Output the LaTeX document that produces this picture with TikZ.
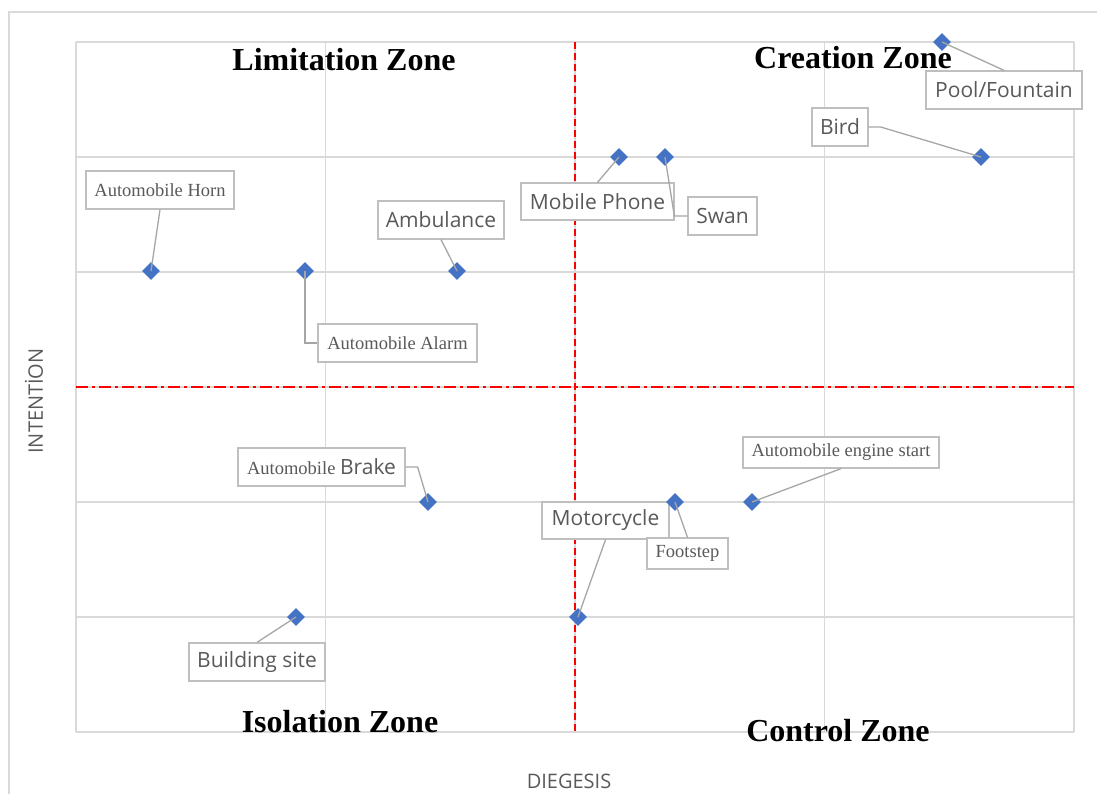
\documentclass[tikz,border=0pt]{standalone}
\usepackage{fontspec}
\setmainfont{Liberation Serif}
\newfontfamily\chartsans{Open Sans}
\usetikzlibrary{shapes.geometric}

\definecolor{gridgray}{HTML}{D9D9D9}
\definecolor{boxgray}{HTML}{BFBFBF}
\definecolor{leadgray}{HTML}{A6A6A6}
\definecolor{textgray}{HTML}{595959}
\definecolor{pointblue}{HTML}{4472C4}

\newcommand{\serifsmall}{\fontsize{18.5}{22}\selectfont}
\newcommand{\sanssmall}{\chartsans\fontsize{21}{25}\selectfont}

\begin{document}
\begin{tikzpicture}[x=1pt, y=-1pt,
	gridline/.style={draw=gridgray, line width=1.4pt},
	labelbox/.style={draw=boxgray, line width=1.3pt, fill=white, text=textgray, inner sep=0pt},
	point/.style={shape=diamond, fill=pointblue, inner sep=0pt, minimum size=18pt},
	leader/.style={draw=leadgray, line width=1.3pt},
	zone/.style={font=\fontsize{32}{38}\selectfont\bfseries, text=black, inner sep=0pt},
	axistitle/.style={font=\chartsans\fontsize{20}{24}\selectfont, text=textgray, inner sep=0pt}]
	\useasboundingbox (0,0) rectangle (1097,794);

	% chart frame and grid
	\draw[draw=gridgray, line width=1.3pt] (9,794) -- (9,12) -- (1097,12);
	\foreach \gx in {76,325.5,575,824.5,1074}
		\draw[gridline] (\gx,42) -- (\gx,732);
	\foreach \gy in {42,157,272,387,502,617,732}
		\draw[gridline] (76,\gy) -- (1074,\gy);

	% quadrant dividers
	\draw[red, line width=1.8pt, dash pattern=on 7pt off 4pt] (575,42) -- (575,732);
	\draw[red, line width=1.8pt, dash pattern=on 12pt off 4pt on 3pt off 4pt] (76,387) -- (1074,387);

	% zone titles
	\node[zone] (limitation) at (344,60)  {Limitation Zone};
	\node[zone] (creation)   at (853,58)  {Creation Zone};
	\node[zone] (isolation)  at (340,722) {Isolation Zone};
	\node[zone] (control)    at (838,731) {Control Zone};

	% axis titles
	\node[axistitle, rotate=90] (intention) at (34,401)  {INTENTİON};
	\node[axistitle]            (diegesis)  at (569,781) {DIEGESIS};

	% labels
	\node[labelbox, minimum width=148pt, minimum height=38pt] (horn)     at (160,190)     {\serifsmall Automobile Horn};
	\node[labelbox, minimum width=159pt, minimum height=38pt] (alarm)    at (397.5,343)   {\serifsmall Automobile Alarm};
	\node[labelbox, minimum width=126pt, minimum height=38pt] (amb)      at (441,220)     {\sanssmall Ambulance};
	\node[labelbox, minimum width=153pt, minimum height=37pt] (mobile)   at (597.5,201.5) {\sanssmall Mobile Phone};
	\node[labelbox, minimum width=69pt,  minimum height=38pt] (swan)     at (722.5,216)   {\sanssmall Swan};
	\node[labelbox, minimum width=56pt,  minimum height=38pt] (bird)     at (840,127)     {\sanssmall Bird};
	\node[labelbox, minimum width=156pt, minimum height=38pt] (pool)     at (1004,90)     {\sanssmall Pool/Fountain};
	\node[labelbox, minimum width=167pt, minimum height=38pt] (brake)    at (321.5,467)   {\serifsmall Automobile {\sanssmall Brake}};
	\node[labelbox, minimum width=127pt, minimum height=37pt] (moto)     at (605.5,520.5) {\sanssmall Motorcycle};
	\node[labelbox, minimum width=81pt,  minimum height=31pt] (footstep) at (687.5,553.5) {\serifsmall Footstep};
	\node[labelbox, minimum width=196pt, minimum height=31pt] (engine)   at (841,452.5)   {\serifsmall Automobile engine start};
	\node[labelbox, minimum width=136pt, minimum height=38pt] (building) at (257,662)     {\sanssmall Building site};

	% data points
	\node[point] (hornpt)     at (151,271) {};
	\node[point] (alarmpt)    at (305,271) {};
	\node[point] (ambpt)      at (457,271) {};
	\node[point] (mobilept)   at (619,157) {};
	\node[point] (swanpt)     at (665,157) {};
	\node[point] (birdpt)     at (981,157) {};
	\node[point] (poolpt)     at (942,42)  {};
	\node[point] (brakept)    at (428,502) {};
	\node[point] (footsteppt) at (675,502) {};
	\node[point] (enginept)   at (752,502) {};
	\node[point] (motopt)     at (578,617) {};
	\node[point] (buildingpt) at (296,617) {};

	% leader lines
	\path [leader] (horn.south)     edge (hornpt.center);
	\draw [leader] (alarmpt.center) |- (alarm.west);
	\path [leader] (amb.south)      edge (ambpt.center);
	\path [leader] (mobile.north)   edge (mobilept.center);
	\draw [leader] (swan.west) -- ++(-13,0) -- (swanpt.center);
	\draw [leader] (bird.east) -- ++(12,0) -- (birdpt.center);
	\path [leader] (pool.north)     edge (poolpt.center);
	\draw [leader] (brake.east) -- ++(12,0) -- (brakept.center);
	\path [leader] (moto.south)     edge (motopt.center);
	\path [leader] (footstep.north) edge (footsteppt.center);
	\path [leader] (engine.south)   edge (enginept.center);
	\path [leader] (building.north) edge (buildingpt.center);
\end{tikzpicture}
\end{document}
